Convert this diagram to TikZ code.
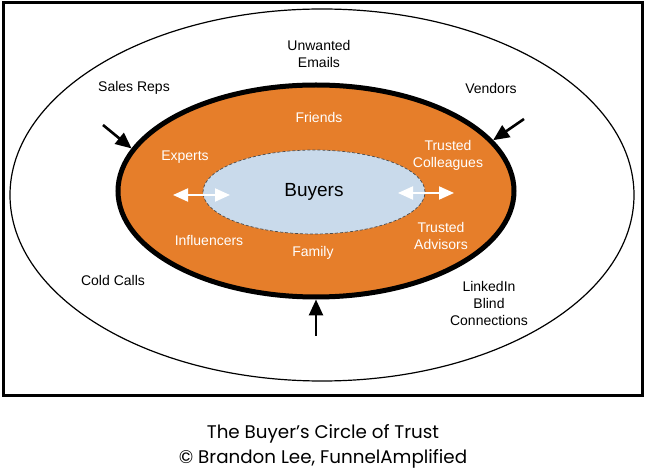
\documentclass[tikz,border=0pt]{standalone}
\usepackage{fontspec}
\setmainfont{Liberation Sans}
\newfontfamily\capfont{Poppins}
\usepackage{tikz}
\usetikzlibrary{shapes.geometric, arrows.meta, positioning}
\definecolor{trustorange}{HTML}{E67E2A}
\definecolor{buyerblue}{HTML}{C9DAEB}
\tikzstyle{ring} = [ellipse, inner sep=0pt]
\tikzstyle{outlabel} = [align=center, font=\fontsize{14}{17}\selectfont, text=black]
\tikzstyle{inlabel} = [align=center, font=\fontsize{14}{17}\selectfont, text=white]
\tikzstyle{arrow} = [line width=2.6pt, -{Triangle[length=16pt, width=14pt]}]
\tikzstyle{darrow} = [line width=2pt, white, {Triangle[length=15pt, width=13pt]}-{Triangle[length=15pt, width=13pt]}]

\begin{document}
\begin{tikzpicture}[x=1pt, y=-1pt]
  \useasboundingbox (0,0) rectangle (646,470);
  \draw[line width=3pt] (3,3) rectangle (642,396);

  % the three circles
  \node[ring, draw=black, line width=1.2pt, fill=white, minimum width=624pt, minimum height=372pt] (outer) at (322,195) {};
  \node[ring, draw=black, line width=5pt, fill=trustorange, minimum width=396pt, minimum height=212pt] (trust) at (316,191) {};
  \node[ring, draw=black!70, densely dashed, line width=0.7pt, fill=buyerblue, minimum width=222pt, minimum height=84pt] (buyers) at (314,192) {};
  \node[font=\fontsize{19}{22}\selectfont] (buyerstxt) at (314,192) {Buyers};

  % inner circle
  \node[inlabel] (friends) at (319,117) {Friends};
  \node[inlabel] (experts) at (185,157) {Experts};
  \node[inlabel] (colleagues) at (448,155) {Trusted\\Colleagues};
  \node[inlabel] (influencers) at (209,240) {Influencers};
  \node[inlabel] (family) at (313,253) {Family};
  \node[inlabel] (advisors) at (441,236) {Trusted\\Advisors};

  % outside the circle
  \node[outlabel] (emails) at (319,54) {Unwanted\\Emails};
  \node[outlabel] (sales) at (134,88) {Sales Reps};
  \node[outlabel] (vendors) at (491,88) {Vendors};
  \node[outlabel] (cold) at (113,280) {Cold Calls};
  \node[outlabel] (linkedin) at (489,303) {LinkedIn\\Blind\\Connections};

  \coordinate (salesin) at (103,125);
  \coordinate (vendorsin) at (524,119);
  \coordinate (bottomin) at (316,336);
  \draw[arrow] (salesin) -- (trust.167);
  \draw[arrow] (vendorsin) -- (trust.16);
  \draw[arrow] (bottomin) -- (trust.south);

  \coordinate (leftA) at (173,195);
  \coordinate (leftB) at (230,195);
  \coordinate (rightA) at (398,193);
  \coordinate (rightB) at (454,193);
  \draw[darrow] (leftA) -- (leftB);
  \draw[darrow] (rightA) -- (rightB);

  \node[font=\capfont\fontsize{18.3}{25}\selectfont, align=center] (caption) at (323,446) {The Buyer’s Circle of Trust\\© Brandon Lee, FunnelAmplified};
\end{tikzpicture}
\end{document}
